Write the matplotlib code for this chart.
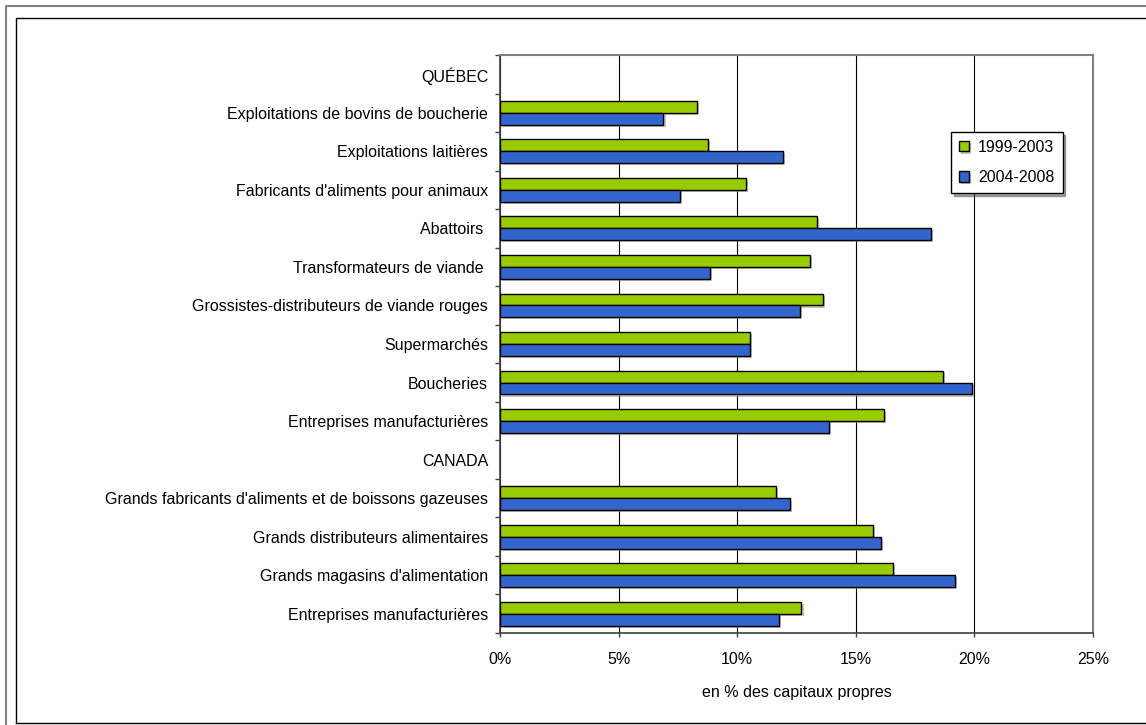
# rentabilité des capitaux propres par secteur, Québec et Canada

import matplotlib
matplotlib.use("Agg")
import matplotlib.pyplot as plt
from matplotlib import patheffects
from matplotlib.lines import Line2D
from matplotlib.ticker import FuncFormatter, MultipleLocator

# ============================================================
# Data
# ============================================================
categories = [
    "QUÉBEC",
    "Exploitations de bovins de boucherie",
    "Exploitations laitières",
    "Fabricants d'aliments pour animaux",
    "Abattoirs ",
    "Transformateurs de viande ",
    "Grossistes-distributeurs de viande rouges",
    "Supermarchés",
    "Boucheries",
    "Entreprises manufacturières",
    "CANADA",
    "Grands fabricants d'aliments et de boissons gazeuses",
    "Grands distributeurs alimentaires",
    "Grands magasins d'alimentation",
    "Entreprises manufacturières",
]

periods = ["1999-2003", "2004-2008"]

# en % ; None = ligne d'en-tête sans barre
r_1999_2003 = [None, 8.30, 8.75, 10.35, 13.35, 13.05, 13.60, 10.55, 18.68, 16.17,
               None, 11.63, 15.72, 16.57, 12.71]
r_2004_2008 = [None, 6.89, 11.94, 7.60, 18.17, 8.87, 12.66, 10.55, 19.89, 13.86,
               None, 12.21, 16.06, 19.18, 11.77]

colors = ["#99CC00", "#3366CC"]

# ============================================================
# Figure
# ============================================================
plt.rcParams["font.family"] = ["Liberation Sans", "DejaVu Sans"]
FS = 11.5

W, H = 1146, 725
fig = plt.figure(figsize=(W / 100, H / 100), dpi=100)


def fig_line(xs, ys, color, lw):
    fig.lines.append(Line2D([x / W for x in xs], [1 - y / H for y in ys],
                            transform=fig.transFigure, color=color, linewidth=lw))


# cadres extérieurs (gris puis noir)
fig_line([6, 6, W], [H, 6, 6], "#808080", 1.5)
fig_line([16, 16, W], [723, 18, 18], "black", 1)
fig_line([16, W], [723, 723], "black", 1)

ax = fig.add_axes([500 / W, (H - 633) / H, 593 / W, 578 / H])

bar_h = 0.31
shadow = [patheffects.SimplePatchShadow(offset=(1.5, -1.5), shadow_rgbFace="#999999", alpha=0.6),
          patheffects.Normal()]

for k, (vals, col, lab) in enumerate(zip([r_1999_2003, r_2004_2008], colors, periods)):
    ys = [i for i, v in enumerate(vals) if v is not None]
    ws = [v for v in vals if v is not None]
    offset = (k - 0.5) * bar_h
    bars = ax.barh([y + offset for y in ys], ws, height=bar_h, color=col,
                   edgecolor="black", linewidth=1, label=lab, zorder=3)
    for b in bars:
        b.set_path_effects(shadow)

ax.set_xlim(0, 25)
ax.set_ylim(len(categories) - 0.5, -0.5)

ax.xaxis.set_major_locator(MultipleLocator(5))
ax.xaxis.set_major_formatter(FuncFormatter(lambda v, p: f"{v:.0f}%"))
ax.grid(axis="x", color="black", linewidth=0.8, zorder=0)

# ticks de catégories entre les lignes
ax.set_yticks([i - 0.5 for i in range(len(categories) + 1)])
ax.set_yticklabels([])
ax.set_yticks(range(len(categories)), minor=True)
ax.set_yticklabels(categories, minor=True, fontsize=FS)
ax.tick_params(axis="y", which="major", length=3.5, width=1, color="#404040")
ax.tick_params(axis="y", which="minor", length=0, pad=8.5)
ax.tick_params(axis="x", length=3, width=1, color="#404040", labelsize=FS, pad=10.5)

for side in ["top", "right"]:
    ax.spines[side].set_color("#808080")
    ax.spines[side].set_linewidth(1.5)
for side in ["left", "bottom"]:
    ax.spines[side].set_color("#404040")
    ax.spines[side].set_linewidth(1.2)

ax.set_xlabel("en % des capitaux propres", fontsize=FS, labelpad=13)

leg = ax.legend(loc="upper left", bbox_to_anchor=(951 / W, 1 - 132 / H),
                bbox_transform=fig.transFigure, fancybox=False, shadow=True,
                edgecolor="black", framealpha=1, fontsize=FS,
                handlelength=0.6, handleheight=0.6, handletextpad=0.6,
                borderpad=0.5, labelspacing=0.95, borderaxespad=0)
leg.get_frame().set_linewidth(1)

fig.savefig("out.png", dpi=100)
